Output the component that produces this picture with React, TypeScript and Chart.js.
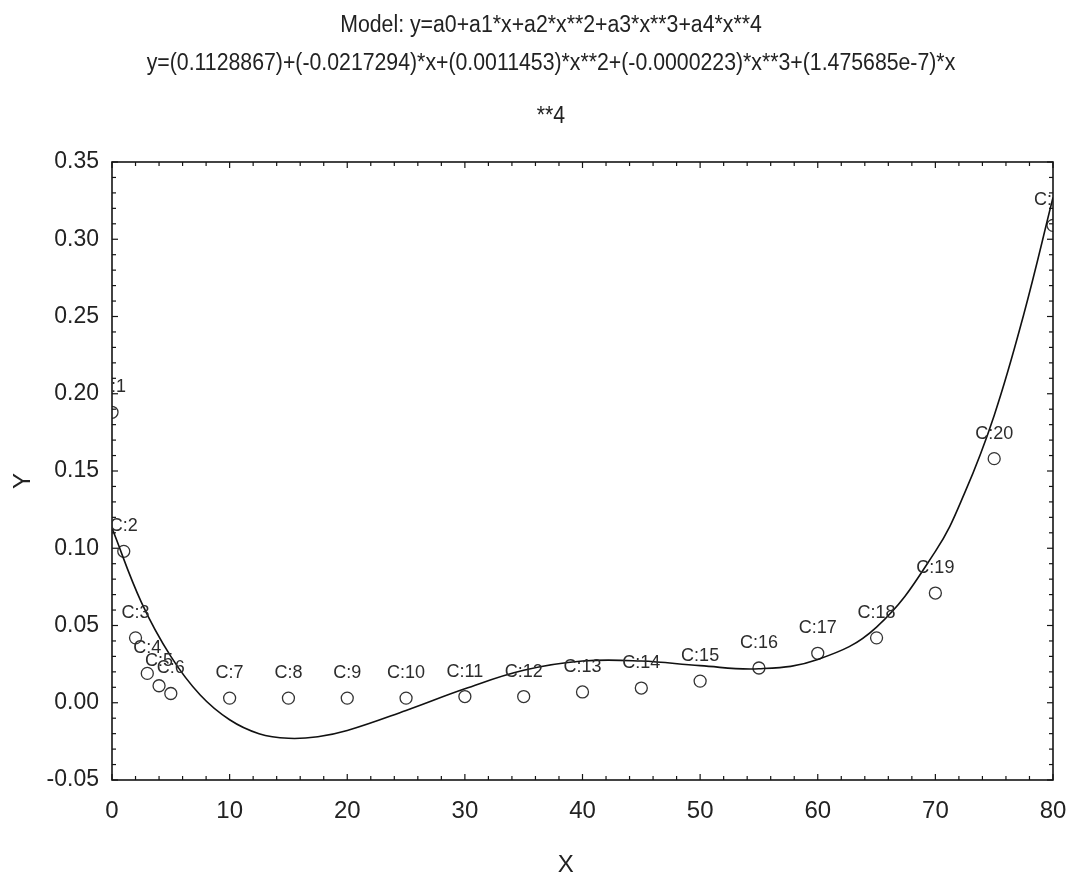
import React, { useEffect, useRef } from 'react';
import { Chart, registerables } from 'chart.js';

Chart.register(...registerables);

// ---- data ----
const titleLines: string[] = [
  'Model: y=a0+a1*x+a2*x**2+a3*x**3+a4*x**4',
  'y=(0.1128867)+(-0.0217294)*x+(0.0011453)*x**2+(-0.0000223)*x**3+(1.475685e-7)*x',
  '**4',
];

const caseX: number[] = [0, 1, 2, 3, 4, 5, 10, 15, 20, 25, 30, 35, 40, 45, 50, 55, 60, 65, 70, 75, 80];
const caseY: number[] = [
  0.188, 0.098, 0.042, 0.019, 0.011, 0.006, 0.003, 0.003, 0.003, 0.003, 0.004,
  0.004, 0.007, 0.0095, 0.014, 0.0225, 0.032, 0.042, 0.071, 0.158, 0.309,
];
const caseLabels: string[] = [
  'C:1', 'C:2', 'C:3', 'C:4', 'C:5', 'C:6', 'C:7', 'C:8', 'C:9', 'C:10', 'C:11',
  'C:12', 'C:13', 'C:14', 'C:15', 'C:16', 'C:17', 'C:18', 'C:19', 'C:20', 'C:21',
];

const curveX: number[] = [0, 2.5, 5, 7.5, 10, 12.5, 15, 17.5, 20, 25, 30, 35, 40, 45, 50, 55, 60, 65, 70, 72.5, 75, 77.5, 80];
const curveY: number[] = [
  0.113, 0.065, 0.030, 0.005, -0.011, -0.020, -0.023, -0.022, -0.018, -0.005, 0.009,
  0.021, 0.027, 0.027, 0.024, 0.022, 0.028, 0.049, 0.098, 0.136, 0.186, 0.251, 0.327,
];

const xTickValues: number[] = [0, 10, 20, 30, 40, 50, 60, 70, 80];
const yTickLabels: string[] = ['-0.05', '0.00', '0.05', '0.10', '0.15', '0.20', '0.25', '0.30', '0.35'];

const X_MIN = 0, X_MAX = 80, X_STEP = 10, X_MINOR = 2;
const Y_MIN = -0.05, Y_MAX = 0.35, Y_STEP = 0.05, Y_MINOR = 0.01;

const W = 1073, H = 878;
const FAMILY = '"Liberation Sans", Arial, Helvetica, sans-serif';
const TEXT = '#222222';

// title layout (centre x, baselines), glyphs slightly condensed like the original
const TITLE_CX = 551;
const TITLE_BASELINES = [31.5, 70, 123];
const TITLE_SIZE = 23.5;
const TITLE_SX = 0.905;

const titlePlugin = {
  id: 'modelTitle',
  afterDraw(chart: any) {
    const { ctx } = chart;
    ctx.save();
    ctx.font = `${TITLE_SIZE}px ${FAMILY}`;
    ctx.fillStyle = TEXT;
    ctx.textAlign = 'center';
    ctx.textBaseline = 'alphabetic';
    ctx.scale(TITLE_SX, 1);
    titleLines.forEach((line, i) => {
      ctx.fillText(line, TITLE_CX / TITLE_SX, TITLE_BASELINES[i]);
    });
    ctx.restore();
  },
};

const framePlugin = {
  id: 'frameTicks',
  afterDatasetsDraw(chart: any) {
    const { ctx, chartArea: a, scales } = chart;
    const xs = scales.x, ys = scales.y;
    ctx.save();
    ctx.strokeStyle = '#141414';
    ctx.lineWidth = 1.6;
    ctx.strokeRect(a.left, a.top, a.right - a.left, a.bottom - a.top);
    ctx.lineWidth = 1.2;
    const seg = (x1: number, y1: number, x2: number, y2: number) => {
      ctx.beginPath();
      ctx.moveTo(x1, y1);
      ctx.lineTo(x2, y2);
      ctx.stroke();
    };
    const nx = Math.round((X_MAX - X_MIN) / X_MINOR);
    for (let k = 0; k <= nx; k++) {
      const v = X_MIN + k * X_MINOR;
      const px = xs.getPixelForValue(v);
      const major = Math.abs(v / X_STEP - Math.round(v / X_STEP)) < 1e-6;
      const len = major ? 6 : 4;
      seg(px, a.bottom, px, a.bottom - len);
      seg(px, a.top, px, a.top + len);
    }
    const ny = Math.round((Y_MAX - Y_MIN) / Y_MINOR);
    for (let k = 0; k <= ny; k++) {
      const v = Y_MIN + k * Y_MINOR;
      const py = ys.getPixelForValue(v);
      const major = k % Math.round(Y_STEP / Y_MINOR) === 0;
      const len = major ? 6 : 4;
      seg(a.left, py, a.left + len, py);
      seg(a.right, py, a.right - len, py);
    }
    ctx.restore();
  },
};

const labelPlugin = {
  id: 'caseLabels',
  afterDatasetsDraw(chart: any) {
    const { ctx, chartArea: a } = chart;
    const meta = chart.getDatasetMeta(1);
    ctx.save();
    ctx.beginPath();
    ctx.rect(a.left, a.top, a.right - a.left, a.bottom - a.top);
    ctx.clip();
    ctx.font = `18px ${FAMILY}`;
    ctx.fillStyle = '#2c2c2c';
    ctx.textAlign = 'center';
    ctx.textBaseline = 'middle';
    meta.data.forEach((el: any, i: number) => {
      ctx.fillText(caseLabels[i], el.x, el.y - 25);
    });
    ctx.restore();
  },
};

export default function App() {
  const ref = useRef<HTMLCanvasElement | null>(null);

  useEffect(() => {
    if (!ref.current) return;

    const chart = new Chart(ref.current, {
      type: 'scatter',
      data: {
        datasets: [
          {
            label: 'fit',
            data: curveX.map((x, i) => ({ x, y: curveY[i] })),
            showLine: true,
            borderColor: '#111111',
            borderWidth: 1.6,
            pointRadius: 0,
            tension: 0.4,
            clip: 0,
          } as any,
          {
            label: 'cases',
            data: caseX.map((x, i) => ({ x, y: caseY[i] })),
            showLine: false,
            pointStyle: 'circle',
            pointRadius: 6,
            pointBorderWidth: 1.3,
            borderColor: '#333333',
            backgroundColor: 'rgba(0,0,0,0)',
            pointBackgroundColor: 'rgba(0,0,0,0)',
            pointBorderColor: '#333333',
            clip: 0,
          } as any,
        ],
      },
      options: {
        animation: false,
        responsive: false,
        devicePixelRatio: 1,
        layout: { padding: { left: 0, right: 20, top: 162, bottom: 0 } },
        plugins: {
          legend: { display: false },
          tooltip: { enabled: false },
          title: { display: false },
        },
        scales: {
          x: {
            type: 'linear',
            min: X_MIN,
            max: X_MAX,
            afterBuildTicks: (s: any) => {
              s.ticks = xTickValues.map((v) => ({ value: v }));
            },
            ticks: {
              stepSize: X_STEP,
              color: TEXT,
              padding: 17,
              maxRotation: 0,
              font: { family: FAMILY, size: 24 },
              callback: (v: any) => String(v),
            },
            grid: { display: false, drawTicks: false },
            border: { display: false },
            title: {
              display: true,
              text: 'X     ',
              color: TEXT,
              font: { family: FAMILY, size: 24 },
              padding: { top: 0, bottom: -2 },
            },
            afterFit: (s: any) => {
              s.height = 98;
              s.paddingLeft = 0;
              s.paddingRight = 0;
            },
          },
          y: {
            type: 'linear',
            min: Y_MIN,
            max: Y_MAX,
            afterBuildTicks: (s: any) => {
              s.ticks = yTickLabels.map((t) => ({ value: parseFloat(t) }));
            },
            ticks: {
              stepSize: Y_STEP,
              color: TEXT,
              padding: 13,
              font: { family: FAMILY, size: 23 },
              callback: (v: any, i: number) => yTickLabels[i] ?? Number(v).toFixed(2),
            },
            grid: { display: false, drawTicks: false },
            border: { display: false },
            title: {
              display: true,
              text: 'Y   ',
              color: TEXT,
              font: { family: FAMILY, size: 24 },
              padding: { top: 9, bottom: 0 },
            },
            afterFit: (s: any) => {
              s.width = 112;
              s.paddingTop = 0;
              s.paddingBottom = 0;
            },
          },
        },
      },
      plugins: [framePlugin, labelPlugin, titlePlugin],
    } as any);

    return () => chart.destroy();
  }, []);

  return (
    <div style={{ position: 'fixed', left: 0, top: 0, width: W, height: H, background: '#ffffff' }}>
      <canvas ref={ref} width={W} height={H} style={{ display: 'block', width: W, height: H }} />
    </div>
  );
}
